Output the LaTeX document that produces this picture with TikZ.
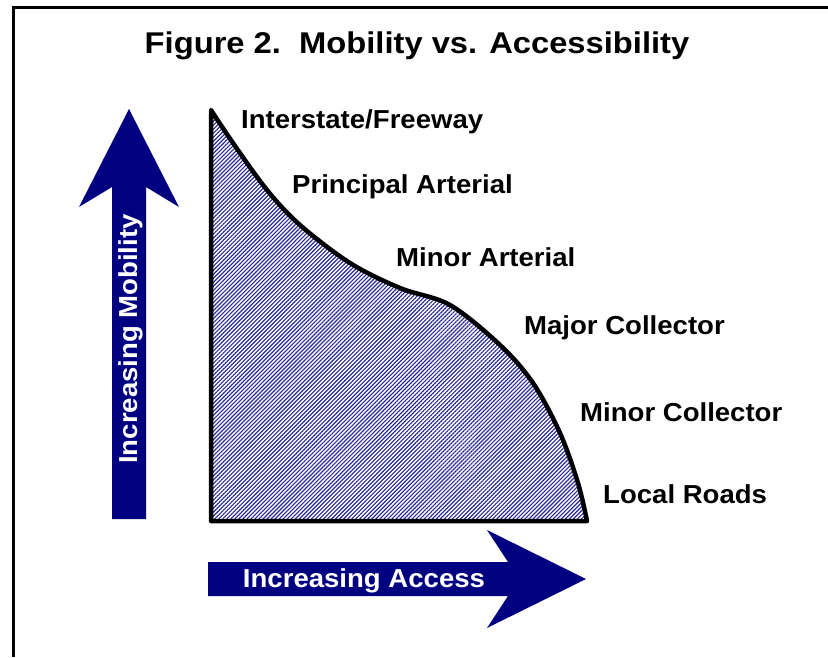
\documentclass[tikz,border=0pt]{standalone}
\usepackage{fontspec}
\usepackage{graphicx}
\setmainfont{Liberation Sans}
\usetikzlibrary{patterns.meta}
\definecolor{navyc}{RGB}{0,0,128}
\definecolor{hatchc}{RGB}{40,40,150}
\newcommand\widetext[1]{\scalebox{1.06}[1]{#1}}
\newcommand\widetitle[1]{\scalebox{1.09}[1]{#1}}
\begin{document}
\begin{tikzpicture}[x=1pt,y=-1pt,
  lbl/.style={anchor=base west,font=\bfseries\fontsize{26}{30}\selectfont,inner sep=0pt},
  arrowtxt/.style={anchor=base,font=\bfseries\fontsize{26}{30}\selectfont,text=white,inner sep=0pt},
  bigarrow/.style={fill=navyc,draw=none}]
\useasboundingbox (0,0) rectangle (828,657);
\fill[white] (0,0) rectangle (828,657);
% frame
\draw[line width=3pt] (13.5,657) -- (13.5,7.5) -- (828,7.5);
% title
\node[anchor=base,font=\bfseries\fontsize{30}{34}\selectfont,inner sep=0pt] (title) at (417,53) {\widetitle{Figure 2.\ \ Mobility vs. Accessibility}};
% hatched area
\draw[line width=4.5pt,line join=round,pattern={Lines[angle=45,distance=2.85pt,line width=1.15pt]},pattern color=hatchc]
  (211,521) -- plot[smooth,tension=0.55] coordinates {(211,110) (233,143) (267,190) (300,225) (350,263) (400,288) (450,305) (500,345) (533,383) (560,433) (578,483) (587,521)} -- cycle;
% labels
\node[lbl] (l1) at (241,128) {\widetext{Interstate/Freeway}};
\node[lbl] (l2) at (292,193) {\widetext{Principal Arterial}};
\node[lbl] (l3) at (396,266) {\widetext{Minor Arterial}};
\node[lbl] (l4) at (524,334) {\widetext{Major Collector}};
\node[lbl] (l5) at (580,421) {\widetext{Minor Collector}};
\node[lbl] (l6) at (603,503) {\widetext{Local Roads}};
% vertical arrow
\fill[bigarrow] (112,519) -- (112,187) -- (79,207) -- (129,109) -- (179,207) -- (146,187) -- (146,519) -- cycle;
\node[arrowtxt,rotate=90] (mob) at (137,339) {\widetext{Increasing Mobility}};
% horizontal arrow
\fill[bigarrow] (208,562) -- (508,562) -- (487,530) -- (586,579) -- (487,628) -- (508,596) -- (208,596) -- cycle;
\node[arrowtxt] (acc) at (364,587) {\widetext{Increasing Access}};
\end{tikzpicture}
\end{document}
